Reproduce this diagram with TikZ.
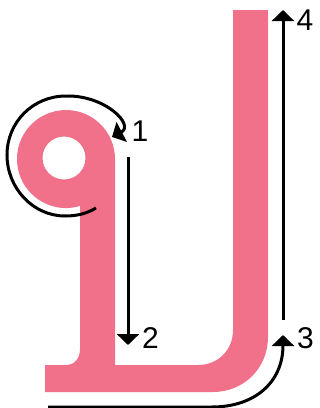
\documentclass[tikz,border=0pt]{standalone}
\usepackage{fontspec}
\setmainfont{Liberation Sans}
\usetikzlibrary{arrows.meta}
\definecolor{glyphpink}{RGB}{240,113,137}
\begin{document}
\begin{tikzpicture}[x=1pt, y=-1pt,
    glyph/.style={fill=glyphpink, even odd rule},
    stroke/.style={line width=3pt, -{Triangle[length=11pt, width=22pt]}},
    num/.style={inner sep=0pt, font=\fontsize{30}{30}\selectfont}]
  \useasboundingbox (0,0) rectangle (320,408);

  % letter
  \fill[glyph] (233,10) -- (268,10) -- (268,337)
      .. controls (268,368) and (244,392) .. (213,392) -- (45,392) -- (45,365) -- (66,365)
      .. controls (75,365) and (80,358) .. (80,349) -- (80,206)
      arc[start angle=73.4, end angle=360, radius=49] -- (115,365) -- (198,365)
      .. controls (218,365) and (233,350) .. (233,330) -- cycle
      (64,158) circle[radius=21.5];

  % stroke 1
  \coordinate (s1) at (96,208);
  \coordinate (e1) at (112,137);
  \draw[stroke] (s1) .. controls (86,214) and (76,216) .. (65,216)
      .. controls (33,216) and (7,188) .. (7,155)
      .. controls (7,122) and (33,96) .. (66,96)
      .. controls (105,95) and (135,125) .. (e1);
  \node[num] (n1) at (140,131) {1};

  % stroke 2
  \coordinate (s2) at (128,157);
  \coordinate (e2) at (128,345);
  \draw[stroke] (s2) -- (e2);
  \node[num] (n2) at (150.5,338.5) {2};

  % stroke 3
  \coordinate (s3) at (48,407);
  \coordinate (e3) at (283,335);
  \draw[stroke] (s3) -- (212,407) .. controls (255,407) and (283,382) .. (e3);
  \node[num] (n3) at (305.5,338.5) {3};

  % stroke 4
  \coordinate (s4) at (283,320);
  \coordinate (e4) at (283,10);
  \draw[stroke] (s4) -- (e4);
  \node[num] (n4) at (305,20) {4};
\end{tikzpicture}
\end{document}
